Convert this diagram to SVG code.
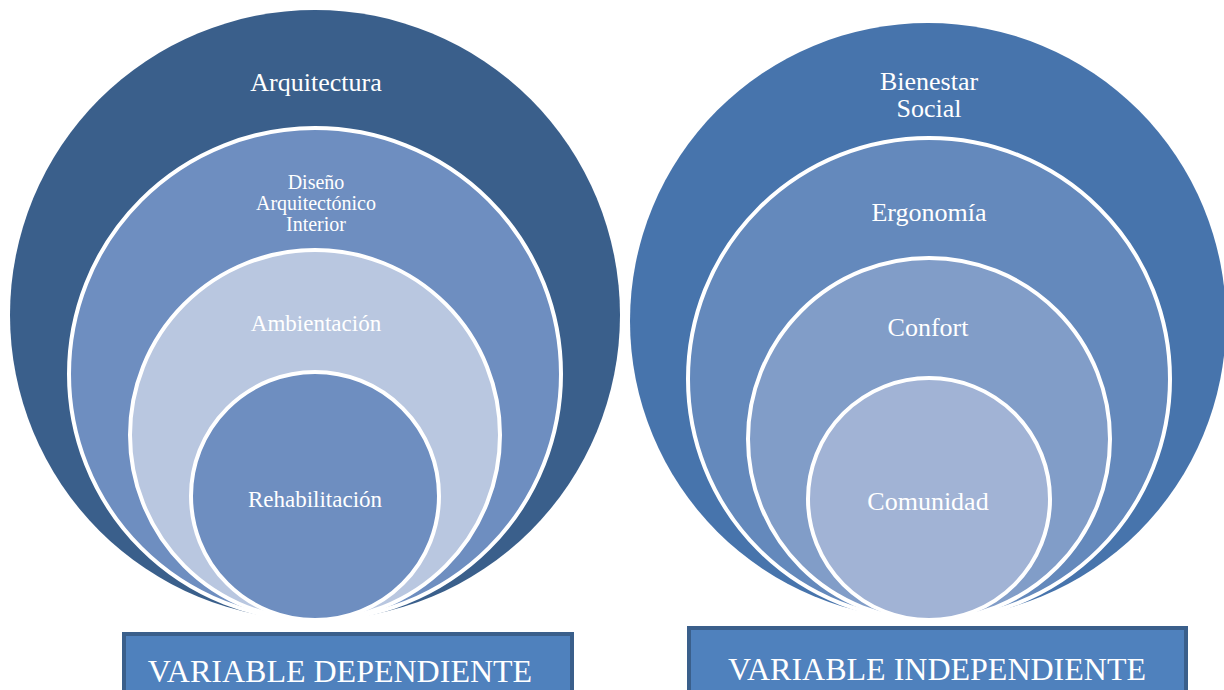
<svg xmlns="http://www.w3.org/2000/svg" width="1224" height="690" viewBox="0 0 1224 690">
<style>
.ring{stroke:#fff;stroke-width:4}
.t{font-family:"Liberation Serif","Times New Roman",serif;fill:#fff;text-anchor:middle}
.box{fill:#4F81BD;stroke:#3A5F8B;stroke-width:4}
</style>
<rect width="1224" height="690" fill="#fff"/>
<g id="left-set">
  <g id="arquitectura">
    <circle cx="315" cy="315" r="305" fill="#3A5F8B"/>
    <text class="t" x="316" y="91" font-size="26">Arquitectura</text>
  </g>
  <g id="diseno">
    <circle class="ring" cx="315" cy="374" r="246" fill="#6E8EC0"/>
    <text class="t" x="316" y="189" font-size="20">Diseño</text>
    <text class="t" x="316" y="210" font-size="20">Arquitectónico</text>
    <text class="t" x="316" y="231" font-size="20">Interior</text>
  </g>
  <g id="ambientacion">
    <circle class="ring" cx="315" cy="435" r="185" fill="#B9C7E0"/>
    <text class="t" x="316" y="331" font-size="23">Ambientación</text>
  </g>
  <g id="rehabilitacion">
    <circle class="ring" cx="315" cy="496" r="124" fill="#6E8EC0"/>
    <text class="t" x="315" y="507" font-size="23">Rehabilitación</text>
  </g>
</g>
<g id="right-set">
  <g id="bienestar">
    <circle cx="928" cy="321" r="298" fill="#4774AC"/>
    <text class="t" x="929" y="90" font-size="26">Bienestar</text>
    <text class="t" x="929" y="117" font-size="26">Social</text>
  </g>
  <g id="ergonomia">
    <circle class="ring" cx="929" cy="379" r="241" fill="#6489BC"/>
    <text class="t" x="929" y="221" font-size="26">Ergonomía</text>
  </g>
  <g id="confort">
    <circle class="ring" cx="929" cy="439" r="181" fill="#819DC8"/>
    <text class="t" x="928" y="336" font-size="26">Confort</text>
  </g>
  <g id="comunidad">
    <circle class="ring" cx="929" cy="499" r="121" fill="#A1B3D5"/>
    <text class="t" x="928" y="510" font-size="26">Comunidad</text>
  </g>
</g>
<g id="label-dependiente">
  <rect class="box" x="124" y="634" width="448" height="62"/>
  <text class="t" x="340" y="682" font-size="32">VARIABLE DEPENDIENTE</text>
</g>
<g id="label-independiente">
  <rect class="box" x="689" y="628" width="497" height="68"/>
  <text class="t" x="937" y="680" font-size="32">VARIABLE INDEPENDIENTE</text>
</g>
<g id="connectors"/>
</svg>
